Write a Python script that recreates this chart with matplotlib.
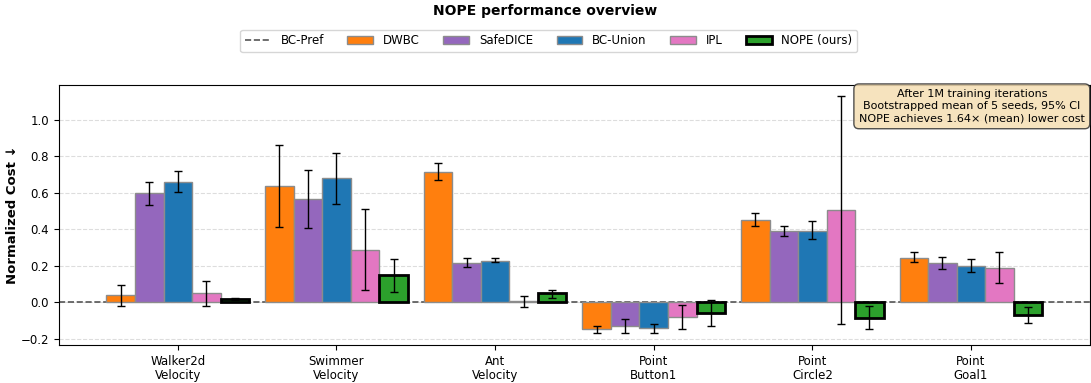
import matplotlib
matplotlib.use("Agg")
import matplotlib.pyplot as plt
import numpy as np

envs = ["Walker2d\nVelocity", "Swimmer\nVelocity", "Ant\nVelocity",
        "Point\nButton1", "Point\nCircle2", "Point\nGoal1"]
methods = ["DWBC", "SafeDICE", "BC-Union", "IPL", "NOPE (ours)"]

# bootstrapped means and 95% CI bounds, one row per method
means = [
    [0.037, 0.636, 0.714, -0.148, 0.451, 0.243],   # DWBC
    [0.596, 0.564, 0.216, -0.129, 0.389, 0.214],   # SafeDICE
    [0.658, 0.678, 0.225, -0.140, 0.389, 0.197],   # BC-Union
    [0.048, 0.285, 0.003, -0.080, 0.506, 0.186],   # IPL
    [0.015, 0.146, 0.048, -0.058, -0.086, -0.073],  # NOPE
]
ci_low = [
    [-0.020, 0.413, 0.668, -0.168, 0.417, 0.217],
    [0.530, 0.405, 0.190, -0.168, 0.364, 0.179],
    [0.603, 0.539, 0.217, -0.168, 0.344, 0.164],
    [-0.020, 0.068, -0.025, -0.148, -0.118, 0.106],
    [0.010, 0.053, 0.024, -0.129, -0.150, -0.115],
]
ci_high = [
    [0.093, 0.860, 0.765, -0.131, 0.490, 0.274],
    [0.660, 0.723, 0.239, -0.091, 0.417, 0.247],
    [0.716, 0.819, 0.239, -0.118, 0.442, 0.234],
    [0.115, 0.508, 0.033, -0.016, 1.129, 0.272],
    [0.022, 0.236, 0.066, 0.013, -0.024, -0.029],
]
bc_pref = 0.0

colors = {
    "DWBC": "#ff7f0e",
    "SafeDICE": "#9467bd",
    "BC-Union": "#1f77b4",
    "IPL": "#e377c2",
    "NOPE (ours)": "#2ca02c",
}

fig = plt.figure(figsize=(10.91, 3.83), dpi=100)
ax = fig.add_axes([0.054, 0.099, 0.945, 0.679])

x = np.arange(len(envs))
width = 0.18
offsets = (np.arange(len(methods)) - (len(methods) - 1) / 2) * width

handles = []
line = ax.axhline(bc_pref, color="#555555", linestyle="--", linewidth=1.2, zorder=1,
                  label="BC-Pref")
handles.append(line)

for i, m in enumerate(methods):
    mu = np.array(means[i])
    err = np.vstack([mu - np.array(ci_low[i]), np.array(ci_high[i]) - mu])
    ours = m.startswith("NOPE")
    b = ax.bar(x + offsets[i], mu, width, color=colors[m],
               edgecolor="black" if ours else "#8c8c8c",
               linewidth=2.0 if ours else 1.0, label=m, zorder=2)
    ax.errorbar(x + offsets[i], mu, yerr=err, fmt="none", ecolor="black",
                elinewidth=1.0, capsize=3, capthick=1.0, zorder=3)
    handles.append(b)

ax.set_xticks(x)
ax.set_xticklabels(envs, fontsize=8.5, linespacing=1.15)
ax.set_xlim(-0.75, 5.75)
ax.set_ylim(-0.236, 1.19)
ax.set_yticks([-0.2, 0.0, 0.2, 0.4, 0.6, 0.8, 1.0])
ax.tick_params(axis="y", labelsize=8.5)
ax.set_ylabel("Normalized Cost ↓", fontsize=9.5, fontweight="bold", labelpad=1)
ax.grid(axis="y", linestyle="--", color="#dddddd", linewidth=0.8, zorder=0)
ax.set_axisbelow(True)

ax.text(0.995, 0.985,
        "After 1M training iterations\nBootstrapped mean of 5 seeds, 95% CI\n"
        "NOPE achieves 1.64× (mean) lower cost",
        transform=ax.transAxes, ha="right", va="top", multialignment="center",
        fontsize=8, linespacing=1.3,
        bbox=dict(boxstyle="round,pad=0.45", facecolor="wheat", edgecolor="#333333",
                  alpha=0.85))

fig.legend(handles=handles, labels=["BC-Pref"] + methods, loc="center",
           bbox_to_anchor=(0.503, 0.893), ncol=6, fontsize=8.5, frameon=True,
           handlelength=2.2, columnspacing=2.0)
fig.suptitle("NOPE performance overview", fontsize=10, fontweight="bold", y=0.99)

fig.savefig("out.png", dpi=100)
